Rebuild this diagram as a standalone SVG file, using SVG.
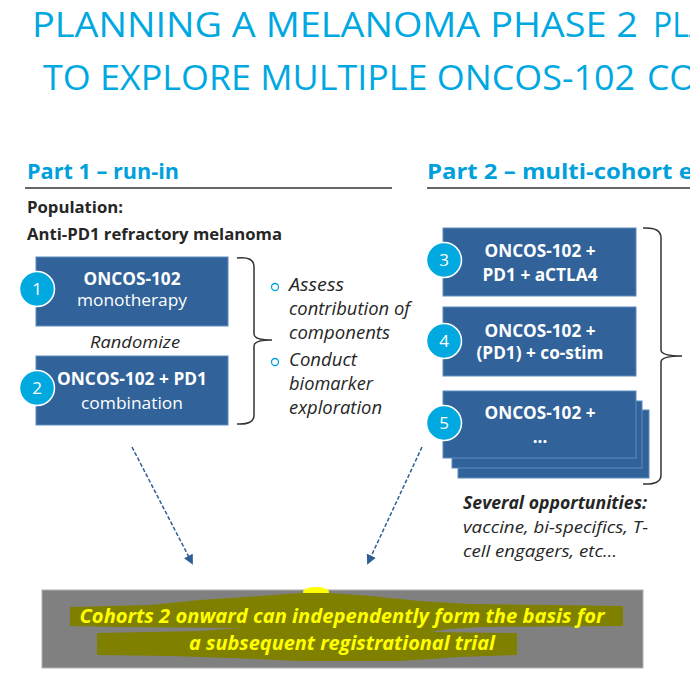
<svg xmlns="http://www.w3.org/2000/svg" width="690" height="682" viewBox="0 0 690 682">
<defs>
<style>
.title{font-family:"Open Sans","Liberation Sans",sans-serif;font-size:35px;fill:#00A8E1;}
.head{font-family:"Open Sans","Liberation Sans",sans-serif;font-size:21px;font-weight:bold;fill:#00A0DC;}
.dark{font-family:"Open Sans","Liberation Sans",sans-serif;fill:#262626;}
.bt{font-family:"Open Sans","Liberation Sans",sans-serif;fill:#ffffff;font-size:17px;text-anchor:middle;}
.box{fill:#31639A;stroke:#5f8cbd;stroke-width:1;}
.num{fill:#00A9E0;stroke:#ffffff;stroke-width:1.5;}
.numt{font-family:"Open Sans","Liberation Sans",sans-serif;fill:#ffffff;font-size:17px;text-anchor:middle;}
.brace{fill:none;stroke:#333333;stroke-width:1.5;}
.conn{fill:none;stroke:#2E6096;stroke-width:1.5;stroke-dasharray:4 2;}
</style>
<marker id="ah" markerWidth="10" markerHeight="10" refX="8" refY="5" orient="auto" markerUnits="userSpaceOnUse">
<path d="M0,0 L10,5 L0,10 z" fill="#2E6096"/>
</marker>
</defs>
<rect width="690" height="682" fill="#ffffff"/>
<g id="title">
<text class="title" x="32" y="37" textLength="606" lengthAdjust="spacingAndGlyphs">PLANNING A MELANOMA PHASE 2</text>
<text class="title" x="653" y="37" textLength="56" lengthAdjust="spacingAndGlyphs">PLA</text>
<text class="title" x="43" y="90" textLength="592" lengthAdjust="spacingAndGlyphs">TO EXPLORE MULTIPLE ONCOS-102</text>
<text class="title" x="647" y="90" textLength="50" lengthAdjust="spacingAndGlyphs">CO</text>
</g>
<g id="part1-header">
<text class="head" x="27" y="179" textLength="152" lengthAdjust="spacingAndGlyphs">Part 1 – run-in</text>
<line x1="25" y1="188" x2="392" y2="188" stroke="#333333" stroke-width="1.5"/>
<text class="dark" x="27" y="213" font-size="16.5" font-weight="bold" textLength="96" lengthAdjust="spacingAndGlyphs">Population:</text>
<text class="dark" x="27" y="240" font-size="16.5" font-weight="bold" textLength="255" lengthAdjust="spacingAndGlyphs">Anti-PD1 refractory melanoma</text>
</g>
<g id="part2-header">
<text class="head" x="427" y="179" textLength="290" lengthAdjust="spacingAndGlyphs">Part 2 – multi-cohort ext</text>
<line x1="427" y1="188" x2="690" y2="188" stroke="#333333" stroke-width="1.5"/>
</g>
<g id="node1">
<rect class="box" x="36" y="257" width="192" height="69"/>
<text class="bt" x="132" y="285" font-weight="bold" textLength="97" lengthAdjust="spacingAndGlyphs">ONCOS-102</text>
<text class="bt" x="132" y="306" textLength="110" lengthAdjust="spacingAndGlyphs">monotherapy</text>
<circle class="num" cx="37" cy="289" r="17.5"/>
<text class="numt" x="37" y="295">1</text>
</g>
<g id="randomize">
<text class="dark" x="135" y="348" font-size="17" font-style="italic" text-anchor="middle" textLength="90" lengthAdjust="spacingAndGlyphs">Randomize</text>
</g>
<g id="node2">
<rect class="box" x="36" y="356" width="192" height="69"/>
<text class="bt" x="132" y="385" font-weight="bold" textLength="150" lengthAdjust="spacingAndGlyphs">ONCOS-102 + PD1</text>
<text class="bt" x="132" y="409" textLength="102" lengthAdjust="spacingAndGlyphs">combination</text>
<circle class="num" cx="37" cy="388" r="17.5"/>
<text class="numt" x="37" y="394">2</text>
</g>
<g id="brace1">
<path class="brace" d="M237,258 Q254,256 254,267 L254,334 Q254,340 272,340 Q254,340 254,346 L254,415 Q254,425 237,424"/>
</g>
<g id="bullets">
<circle cx="275" cy="287" r="3.5" fill="none" stroke="#00A0DC" stroke-width="1.3"/>
<circle cx="275" cy="362" r="3.5" fill="none" stroke="#00A0DC" stroke-width="1.3"/>
<text class="dark" x="289" y="291" font-size="18" font-style="italic" textLength="55" lengthAdjust="spacingAndGlyphs">Assess</text>
<text class="dark" x="289" y="315" font-size="18" font-style="italic" textLength="121" lengthAdjust="spacingAndGlyphs">contribution of</text>
<text class="dark" x="289" y="339" font-size="18" font-style="italic" textLength="101" lengthAdjust="spacingAndGlyphs">components</text>
<text class="dark" x="289" y="366" font-size="18" font-style="italic" textLength="68" lengthAdjust="spacingAndGlyphs">Conduct</text>
<text class="dark" x="289" y="390" font-size="18" font-style="italic" textLength="84" lengthAdjust="spacingAndGlyphs">biomarker</text>
<text class="dark" x="289" y="414" font-size="18" font-style="italic" textLength="93" lengthAdjust="spacingAndGlyphs">exploration</text>
</g>
<g id="node3">
<rect class="box" x="443" y="228" width="193" height="68"/>
<text class="bt" x="540" y="257" font-weight="bold" textLength="111" lengthAdjust="spacingAndGlyphs">ONCOS-102 +</text>
<text class="bt" x="540" y="281" font-weight="bold" textLength="115" lengthAdjust="spacingAndGlyphs">PD1 + aCTLA4</text>
<circle class="num" cx="444" cy="260" r="17.5"/>
<text class="numt" x="444" y="266">3</text>
</g>
<g id="node4">
<rect class="box" x="443" y="307" width="193" height="69"/>
<text class="bt" x="540" y="337" font-weight="bold" textLength="111" lengthAdjust="spacingAndGlyphs">ONCOS-102 +</text>
<text class="bt" x="540" y="359" font-weight="bold" textLength="127" lengthAdjust="spacingAndGlyphs">(PD1) + co-stim</text>
<circle class="num" cx="444" cy="341" r="17.5"/>
<text class="numt" x="444" y="347">4</text>
</g>
<g id="node5">
<rect class="box" x="458" y="410" width="191" height="68"/>
<rect class="box" x="452" y="401" width="190" height="67" stroke="#dfe8f2"/>
<rect class="box" x="443" y="391" width="193" height="67" stroke="#dfe8f2"/>
<text class="bt" x="540" y="419" font-weight="bold" textLength="111" lengthAdjust="spacingAndGlyphs">ONCOS-102 +</text>
<text class="bt" x="540" y="443" font-weight="bold">...</text>
<circle class="num" cx="444" cy="423" r="17.5"/>
<text class="numt" x="444" y="429">5</text>
</g>
<g id="brace2">
<path class="brace" d="M643,228 Q661,227 661,238 L661,350 Q661,356 682,356 Q661,356 661,362 L661,475 Q661,485 643,484"/>
</g>
<g id="opportunities">
<text class="dark" x="463" y="509" font-size="17" font-weight="bold" font-style="italic" textLength="184" lengthAdjust="spacingAndGlyphs">Several opportunities:</text>
<text class="dark" x="463" y="533" font-size="17" font-style="italic" textLength="185" lengthAdjust="spacingAndGlyphs">vaccine, bi-specifics, T-</text>
<text class="dark" x="463" y="557" font-size="17" font-style="italic" textLength="154" lengthAdjust="spacingAndGlyphs">cell engagers, etc…</text>
</g>
<g id="connectors">
<line class="conn" x1="132" y1="447" x2="192" y2="563" marker-end="url(#ah)"/>
<line class="conn" x1="422" y1="447" x2="368" y2="563" marker-end="url(#ah)"/>
</g>
<g id="conclusion">
<rect x="42" y="590" width="601" height="78" fill="#808080" stroke="#b0b0b0" stroke-width="1"/>
<ellipse cx="316" cy="592" rx="13" ry="5" fill="#FFFF00"/>
<path fill="#808000" d="M70,607 L150,605 L200,600 L260,596 L300,593 L330,593 L370,596 L420,601 L470,604 L623,606 L623,626 L480,627 L450,629 L430,632 L517,633 L517,655 L460,657 L400,661 L300,661 L230,658 L170,656 L97,655 L97,633 L200,631 L240,628 L120,627 L70,626 Z"/>
<text x="342" y="623" font-family="Open Sans, Liberation Sans, sans-serif" font-size="19" font-weight="bold" font-style="italic" fill="#FFFF00" text-anchor="middle" textLength="525" lengthAdjust="spacingAndGlyphs">Cohorts 2 onward can independently form the basis for</text>
<text x="342" y="650" font-family="Open Sans, Liberation Sans, sans-serif" font-size="19" font-weight="bold" font-style="italic" fill="#FFFF00" text-anchor="middle" textLength="306" lengthAdjust="spacingAndGlyphs">a subsequent registrational trial</text>
</g>
</svg>
